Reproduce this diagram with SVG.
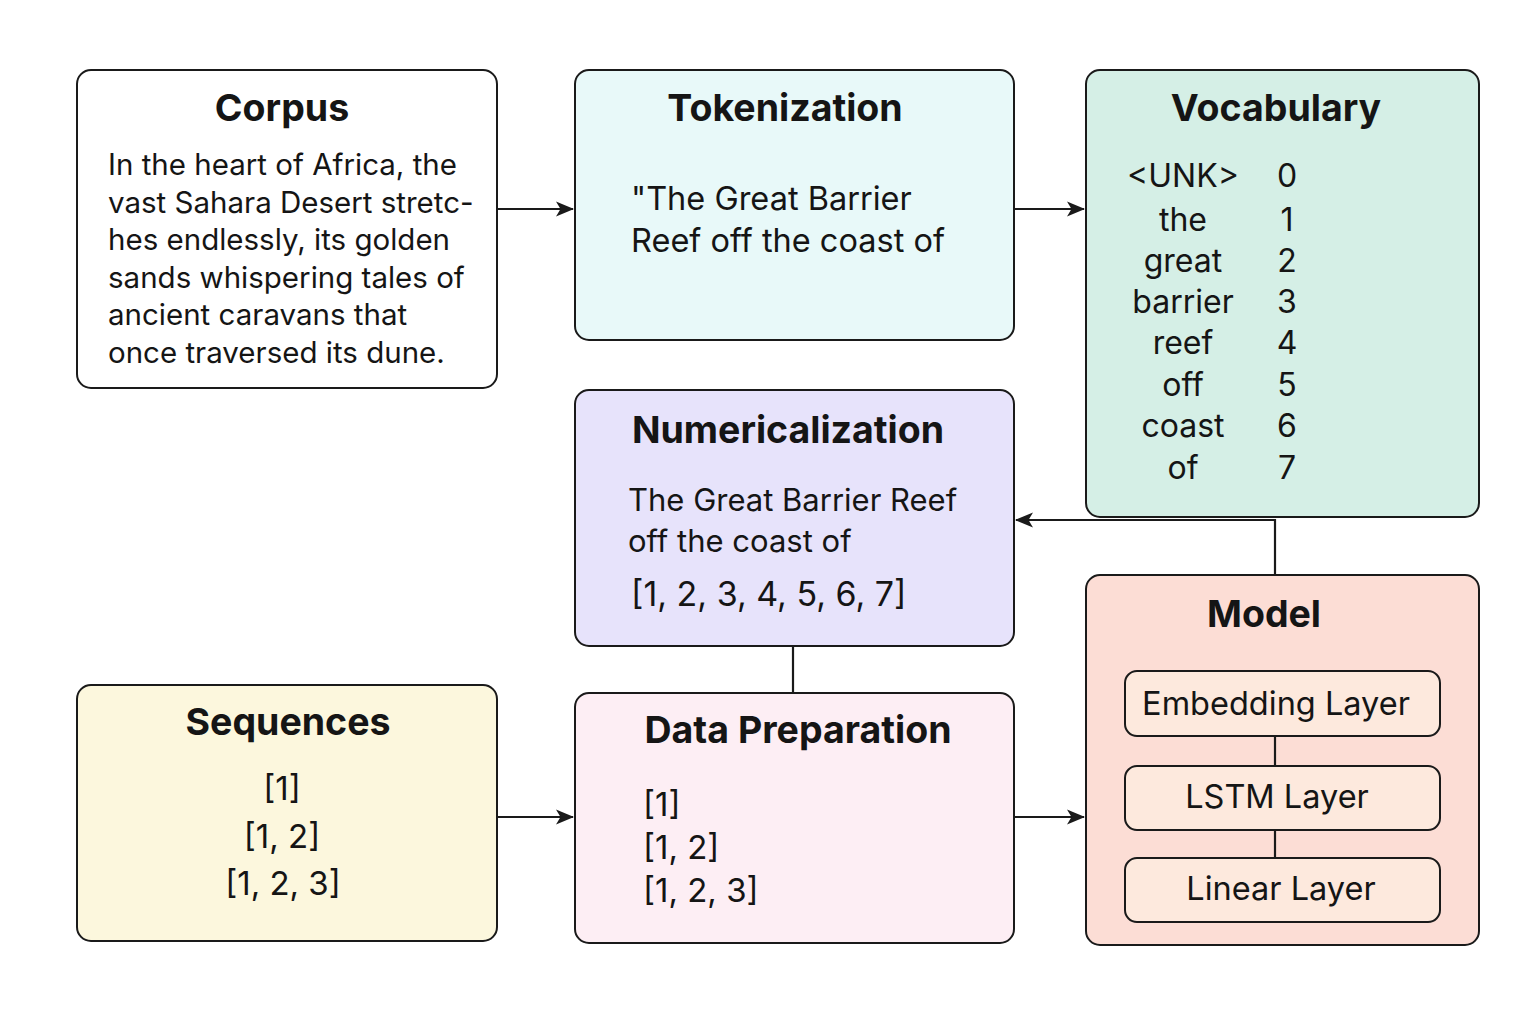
<svg xmlns="http://www.w3.org/2000/svg" width="1536" height="1024" viewBox="0 0 1536 1024">
<defs>
<marker id="arr" viewBox="0 0 18 18" refX="17" refY="9" markerWidth="18" markerHeight="18" markerUnits="userSpaceOnUse" orient="auto">
<path d="M0,1.5 L18,9 L0,16.5 L4.5,9 Z" fill="#1a1a1a"/>
</marker>
<style>
.box{stroke:#1a1a1a;stroke-width:2}
.title{font-family:Inter,"Noto Sans","Liberation Sans",sans-serif;font-weight:700;font-size:37.5px;fill:#151515;text-anchor:middle}
.body{font-family:Inter,"Noto Sans","Liberation Sans",sans-serif;font-size:29.5px;fill:#151515}
.mid{text-anchor:middle}
.conn{stroke:#1a1a1a;stroke-width:2.2;fill:none}
</style>
</defs>
<rect width="1536" height="1024" fill="#ffffff"/>
<g id="corpus">
<rect class="box" x="77" y="70" width="420" height="318" rx="14" fill="#ffffff"/>
<text class="title" x="282" y="121">Corpus</text>
<text class="body" x="108" y="175">In the heart of Africa, the</text>
<text class="body" x="108" y="213">vast Sahara Desert stretc-</text>
<text class="body" x="108" y="250">hes endlessly, its golden</text>
<text class="body" x="108" y="288">sands whispering tales of</text>
<text class="body" x="108" y="325">ancient caravans that</text>
<text class="body" x="108" y="363">once traversed its dune.</text>
</g>
<g id="tokenization">
<rect class="box" x="575" y="70" width="439" height="270" rx="14" fill="#e8f9f9"/>
<text class="title" x="785" y="121">Tokenization</text>
<text class="body" x="631" y="210" style="font-size:32.5px">"The Great Barrier</text>
<text class="body" x="631" y="252" style="font-size:32.5px">Reef off the coast of</text>
</g>
<g id="vocabulary">
<rect class="box" x="1086" y="70" width="393" height="447" rx="14" fill="#d5efe6"/>
<text class="title" x="1276" y="121">Vocabulary</text>
<g class="body mid" style="font-size:32px">
<text x="1183" y="187">&lt;UNK&gt;</text><text x="1287" y="187">0</text>
<text x="1183" y="231">the</text><text x="1287" y="231">1</text>
<text x="1183" y="272">great</text><text x="1287" y="272">2</text>
<text x="1183" y="313">barrier</text><text x="1287" y="313">3</text>
<text x="1183" y="354">reef</text><text x="1287" y="354">4</text>
<text x="1183" y="396">off</text><text x="1287" y="396">5</text>
<text x="1183" y="437">coast</text><text x="1287" y="437">6</text>
<text x="1183" y="479">of</text><text x="1287" y="479">7</text>
</g>
</g>
<g id="numericalization">
<rect class="box" x="575" y="390" width="439" height="256" rx="14" fill="#e7e3fb"/>
<text class="title" x="788" y="443">Numericalization</text>
<text class="body" x="628" y="511" style="font-size:31px">The Great Barrier Reef</text>
<text class="body" x="628" y="552" style="font-size:31px">off the coast of</text>
<text class="body" x="631" y="606" style="font-size:34px">[1, 2, 3, 4, 5, 6, 7]</text>
</g>
<g id="model">
<rect class="box" x="1086" y="575" width="393" height="370" rx="14" fill="#fcddd5"/>
<text class="title" x="1264" y="627">Model</text>
<g id="embedding-layer">
<rect class="box" x="1125" y="671" width="315" height="65" rx="12" fill="#fde9dd"/>
<text class="body mid" x="1276" y="715" style="font-size:32.5px">Embedding Layer</text>
</g>
<g id="lstm-layer">
<rect class="box" x="1125" y="766" width="315" height="64" rx="12" fill="#fde9dd"/>
<text class="body mid" x="1277" y="808" style="font-size:32.5px">LSTM Layer</text>
</g>
<g id="linear-layer">
<rect class="box" x="1125" y="858" width="315" height="64" rx="12" fill="#fde9dd"/>
<text class="body mid" x="1281" y="900" style="font-size:32.5px">Linear Layer</text>
</g>
</g>
<g id="sequences">
<rect class="box" x="77" y="685" width="420" height="256" rx="14" fill="#fcf7dd"/>
<text class="title" x="288" y="735">Sequences</text>
<text class="body mid" x="282" y="800" style="font-size:33px">[1]</text>
<text class="body mid" x="282" y="848" style="font-size:33px">[1, 2]</text>
<text class="body mid" x="283" y="895" style="font-size:33px">[1, 2, 3]</text>
</g>
<g id="data-preparation">
<rect class="box" x="575" y="693" width="439" height="250" rx="14" fill="#fdeef4"/>
<text class="title" x="798" y="743">Data Preparation</text>
<text class="body" x="643" y="816" style="font-size:33px">[1]</text>
<text class="body" x="643" y="859" style="font-size:33px">[1, 2]</text>
<text class="body" x="643" y="902" style="font-size:33px">[1, 2, 3]</text>
</g>
<g id="connectors">
<line class="conn" x1="498" y1="209" x2="573" y2="209" marker-end="url(#arr)"/>
<line class="conn" x1="1015" y1="209" x2="1084" y2="209" marker-end="url(#arr)"/>
<path class="conn" d="M1275,574 V520 H1016" marker-end="url(#arr)"/>
<line class="conn" x1="793" y1="647" x2="793" y2="692"/>
<line class="conn" x1="498" y1="817" x2="573" y2="817" marker-end="url(#arr)"/>
<line class="conn" x1="1015" y1="817" x2="1084" y2="817" marker-end="url(#arr)"/>
<line class="conn" x1="1275" y1="737" x2="1275" y2="765"/>
<line class="conn" x1="1275" y1="831" x2="1275" y2="857"/>
</g>
</svg>
